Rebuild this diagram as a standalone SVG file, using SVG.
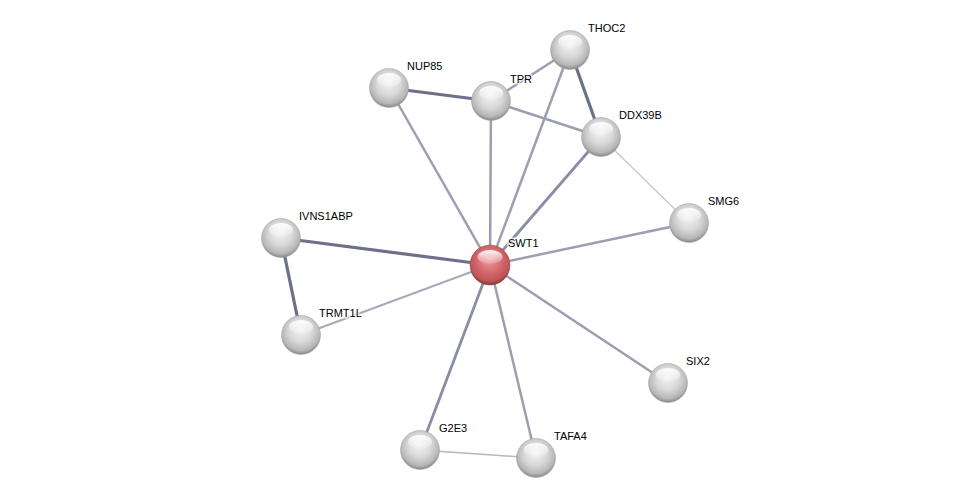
<svg xmlns="http://www.w3.org/2000/svg" width="976" height="503" viewBox="0 0 976 503">
<defs>
<radialGradient id="g" cx="50%" cy="42%" r="60%" fx="48%" fy="35%">
<stop offset="0" stop-color="#f4f4f4"/>
<stop offset="0.5" stop-color="#d8d8d8"/>
<stop offset="0.82" stop-color="#b6b6b6"/>
<stop offset="1" stop-color="#7c7c7c"/>
</radialGradient>
<radialGradient id="r" cx="50%" cy="42%" r="60%" fx="48%" fy="35%">
<stop offset="0" stop-color="#ee9fa2"/>
<stop offset="0.5" stop-color="#d56a6e"/>
<stop offset="0.82" stop-color="#bf5558"/>
<stop offset="1" stop-color="#7a2f31"/>
</radialGradient>
<linearGradient id="hl" x1="0" y1="0" x2="0" y2="1">
<stop offset="0" stop-color="#ffffff" stop-opacity="0.95"/>
<stop offset="1" stop-color="#ffffff" stop-opacity="0.1"/>
</linearGradient>
</defs>
<style>
text{font-family:"Liberation Sans",Arial,sans-serif;font-size:11px;fill:#000}
.lab{paint-order:stroke;stroke:#fff;stroke-width:3px;stroke-opacity:0.7}
.m{stroke:#9c9fb2;stroke-width:2.5;fill:none}
.t{stroke:#6c7089;stroke-width:3.2;fill:none}
.l{stroke:#c4c5cc;stroke-width:1.2;fill:none}
.n{fill:url(#g);stroke:#a0a0a0;stroke-width:0.5}
.h{fill:url(#hl)}
</style>
<rect width="976" height="503" fill="#ffffff"/>
<g id="edges">
<line class="t" x1="389" y1="88" x2="491" y2="101"/>
<line class="t" x1="570" y1="50" x2="601" y2="137"/>
<line class="t" x1="281" y1="238" x2="301" y2="335"/>
<line class="t" x1="281" y1="238" x2="490" y2="265"/>
<line class="m" x1="491" y1="101" x2="570" y2="50"/>
<line class="m" x1="491" y1="101" x2="601" y2="137"/>
<line class="m" x1="389" y1="88" x2="490" y2="265"/>
<line class="m" x1="491" y1="101" x2="490" y2="265"/>
<line class="m" x1="570" y1="50" x2="490" y2="265"/>
<line class="m" x1="601" y1="137" x2="490" y2="265" style="stroke:#8a8ea4;stroke-width:2.8"/>
<line class="l" x1="601" y1="137" x2="689" y2="223"/>
<line class="m" x1="689" y1="223" x2="490" y2="265"/>
<line class="m" x1="301" y1="335" x2="490" y2="265" style="stroke:#a6a9ba;stroke-width:2"/>
<line class="m" x1="668" y1="383" x2="490" y2="265"/>
<line class="m" x1="420" y1="450" x2="490" y2="265" style="stroke:#8a8ea4;stroke-width:2.8"/>
<line class="m" x1="536" y1="458" x2="490" y2="265"/>
<line class="l" x1="420" y1="450" x2="536" y2="458" style="stroke:#b4b6c2;stroke-width:1.6"/>
</g>
<g id="NUP85"><circle class="n" cx="389" cy="88" r="19.5"/><ellipse class="h" cx="389" cy="80" rx="12" ry="7"/><text class="lab" x="407" y="70">NUP85</text></g>
<g id="TPR"><circle class="n" cx="491" cy="101" r="19.5"/><ellipse class="h" cx="491" cy="93" rx="12" ry="7"/><text class="lab" x="510" y="83">TPR</text></g>
<g id="THOC2"><circle class="n" cx="570" cy="50" r="19.5"/><ellipse class="h" cx="570" cy="42" rx="12" ry="7"/><text class="lab" x="588" y="32">THOC2</text></g>
<g id="DDX39B"><circle class="n" cx="601" cy="137" r="19.5"/><ellipse class="h" cx="601" cy="129" rx="12" ry="7"/><text class="lab" x="619" y="119">DDX39B</text></g>
<g id="SMG6"><circle class="n" cx="689" cy="223" r="19.5"/><ellipse class="h" cx="689" cy="215" rx="12" ry="7"/><text class="lab" x="708" y="205">SMG6</text></g>
<g id="IVNS1ABP"><circle class="n" cx="281" cy="238" r="19.5"/><ellipse class="h" cx="281" cy="230" rx="12" ry="7"/><text class="lab" x="299" y="220">IVNS1ABP</text></g>
<g id="TRMT1L"><circle class="n" cx="301" cy="335" r="19.5"/><ellipse class="h" cx="301" cy="327" rx="12" ry="7"/><text class="lab" x="319" y="317">TRMT1L</text></g>
<g id="SIX2"><circle class="n" cx="668" cy="383" r="19.5"/><ellipse class="h" cx="668" cy="375" rx="12" ry="7"/><text class="lab" x="686" y="365">SIX2</text></g>
<g id="G2E3"><circle class="n" cx="420" cy="450" r="19.5"/><ellipse class="h" cx="420" cy="442" rx="12" ry="7"/><text class="lab" x="439" y="432">G2E3</text></g>
<g id="TAFA4"><circle class="n" cx="536" cy="458" r="19.5"/><ellipse class="h" cx="536" cy="450" rx="12" ry="7"/><text class="lab" x="554" y="440">TAFA4</text></g>
<g id="SWT1"><circle cx="490" cy="265" r="20" fill="url(#r)" stroke="#8a4a4c" stroke-width="0.5"/><ellipse class="h" cx="490" cy="257" rx="12.5" ry="7"/><text class="lab" x="508" y="247">SWT1</text></g>
</svg>
